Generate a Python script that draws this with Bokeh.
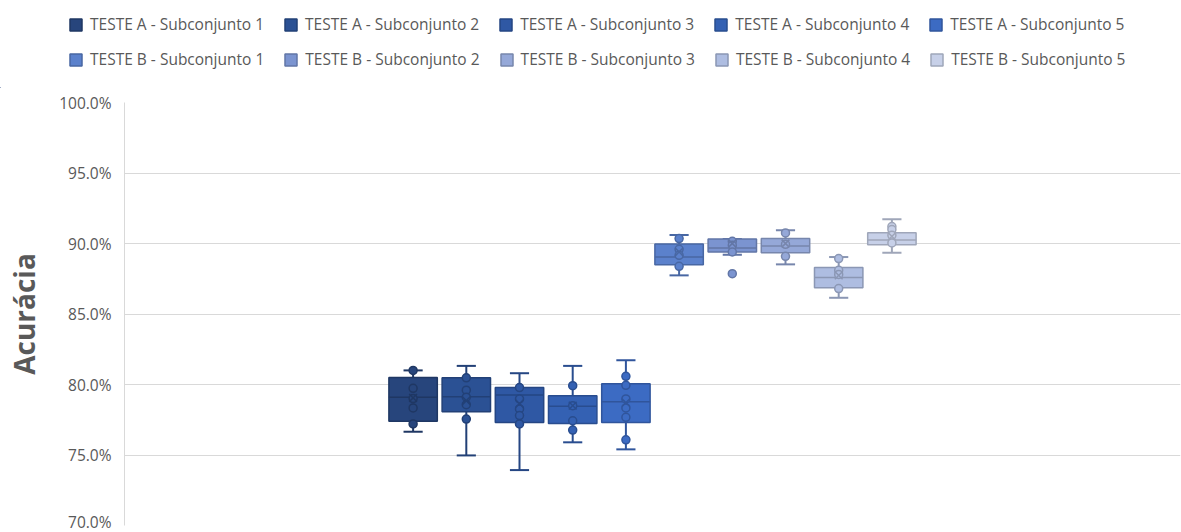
from bokeh.plotting import figure
from bokeh.layouts import column
from bokeh.models import (Range1d, Legend, LegendItem, PrintfTickFormatter, FixedTicker,
                          ColumnDataSource)
from bokeh.embed import file_html
from bokeh.resources import INLINE

# ---- data -------------------------------------------------------------
series_names = [
    "TESTE A - Subconjunto 1", "TESTE A - Subconjunto 2", "TESTE A - Subconjunto 3",
    "TESTE A - Subconjunto 4", "TESTE A - Subconjunto 5",
    "TESTE B - Subconjunto 1", "TESTE B - Subconjunto 2", "TESTE B - Subconjunto 3",
    "TESTE B - Subconjunto 4", "TESTE B - Subconjunto 5",
]
box_colors = [
    "#27457c", "#2b5194", "#2f58a4", "#3461b3", "#3c6bc3",
    "#5b81cc", "#7b94d0", "#95a8d8", "#aebde1", "#c7d0e8",
]
# accuracy statistics (%)
q1 = [77.4, 78.07, 77.31, 77.24, 77.31, 88.5, 89.4, 89.35, 86.87, 89.92]
median = [79.1, 79.14, 79.26, 78.45, 78.78, 89.04, 89.68, 89.82, 87.58, 90.25]
q3 = [80.5, 80.47, 79.78, 79.21, 80.06, 89.97, 90.32, 90.35, 88.29, 90.77]
whisker_low = [76.65, 74.97, 73.93, 75.9, 75.4, 87.74, 89.2, 88.52, 86.15, 89.35]
whisker_high = [81.0, 81.32, 80.8, 81.32, 81.72, 90.6, 90.32, 90.94, 89.04, 91.72]
means = [79.05, 78.85, 78.64, 78.5, 78.72, 89.4, 90.0, 90.0, 87.74, 90.5]
inner_points = [
    [81.0, 79.73, 79.0, 78.34, 77.2],
    [80.47, 79.6, 79.1, 78.57, 77.55],
    [79.78, 78.98, 78.27, 77.8, 77.2],
    [79.92, 78.5, 77.43, 76.77],
    [80.58, 79.94, 78.98, 78.34, 77.67, 76.08],
    [90.35, 89.59, 89.16, 88.38],
    [90.16, 89.87, 89.4],
    [90.75, 89.94, 89.09],
    [88.93, 88.1, 87.81, 86.8],
    [91.2, 90.99, 90.58, 90.04],
]
outliers = [[], [], [], [], [], [], [87.86], [], [], []]
y_ticks = [70, 75, 80, 85, 90, 95, 100]

# ---- layout constants ---------------------------------------------------
SLOT = 1.0          # one series per slot
BOX_W = 0.91        # box width as a fraction of a slot
CAP_W = 0.36        # whisker cap width
HALF_SPAN = 9.925   # half of the visible x extent, in slots
LEGEND_H = 88       # height of the legend strip above the chart
TOTAL_H = 532
WIDTH = 1181


def darken(hex_color, f):
    h = hex_color.lstrip("#")
    r, g, b = (int(h[i:i + 2], 16) for i in (0, 2, 4))
    return "#%02x%02x%02x" % (int(r * f), int(g * f), int(b * f))


n = len(series_names)
x_pos = [(i - (n - 1) / 2) * SLOT for i in range(n)]
edges = [darken(c, 0.8) for c in box_colors]

# ---- main chart -----------------------------------------------------------
p = figure(
    width=WIDTH, height=TOTAL_H - LEGEND_H,
    x_range=Range1d(-HALF_SPAN, HALF_SPAN), y_range=Range1d(70, 100),
    output_backend="svg", toolbar_location=None,
    min_border_left=124, min_border_right=1, min_border_top=102 - LEGEND_H, min_border_bottom=7,
)
p.outline_line_color = None
p.background_fill_color = "white"
p.border_fill_color = "white"

p.xaxis.visible = False
p.xgrid.visible = False

p.yaxis.ticker = FixedTicker(ticks=y_ticks)
p.yaxis.formatter = PrintfTickFormatter(format="%.1f%%")
p.yaxis.major_tick_line_color = None
p.yaxis.minor_tick_line_color = None
p.yaxis.major_tick_out = 0
p.yaxis.major_tick_in = 0
p.yaxis.axis_line_color = "#d9d9d9"
p.yaxis.major_label_standoff = 13
p.yaxis.major_label_text_font = "Open Sans"
p.yaxis.major_label_text_font_size = "15.5px"
p.yaxis.major_label_text_color = "#595959"
p.yaxis.axis_label = "Acurácia"
p.yaxis.axis_label_text_font = "Open Sans"
p.yaxis.axis_label_text_font_size = "28px"
p.yaxis.axis_label_text_font_style = "bold"
p.yaxis.axis_label_text_color = "#595959"
p.yaxis.axis_label_standoff = 13

p.ygrid.ticker = FixedTicker(ticks=y_ticks)
p.ygrid.grid_line_color = "#d9d9d9"
p.ygrid.grid_line_width = 1

for i in range(n):
    x = x_pos[i]
    fill = box_colors[i]
    edge = edges[i]

    # whisker stems
    p.segment(x0=[x, x], y0=[whisker_low[i], q3[i]], x1=[x, x], y1=[q1[i], whisker_high[i]],
              line_color=edge, line_width=2)
    # whisker caps
    p.segment(x0=[x - CAP_W / 2] * 2, y0=[whisker_low[i], whisker_high[i]],
              x1=[x + CAP_W / 2] * 2, y1=[whisker_low[i], whisker_high[i]],
              line_color=edge, line_width=2)
    # box
    p.vbar(x=[x], width=BOX_W, bottom=[q1[i]], top=[q3[i]],
           fill_color=fill, line_color=edge, line_width=1.5)
    # median
    p.segment(x0=[x - BOX_W / 2], y0=[median[i]], x1=[x + BOX_W / 2], y1=[median[i]],
              line_color=edge, line_width=1.5)
    # data points and outliers
    pts = inner_points[i] + outliers[i]
    p.scatter(x=[x] * len(pts), y=pts, size=8, marker="circle",
              fill_color=fill, line_color=edge, line_width=1.5)
    # mean
    p.scatter(x=[x], y=[means[i]], size=11, marker="x", line_color=edge, line_width=1.5)

# ---- legend strip ---------------------------------------------------------
# one unit per pixel; the ranges start just past the box data so the
# swatch renderers stay outside the strip
lg = figure(
    width=WIDTH, height=LEGEND_H,
    x_range=Range1d(20, 20 + WIDTH), y_range=Range1d(100, 100 + LEGEND_H),
    output_backend="svg", toolbar_location=None,
    min_border_left=0, min_border_right=0, min_border_top=0, min_border_bottom=0,
)
lg.frame_align = False
lg.outline_line_color = None
lg.axis.visible = False
lg.grid.visible = False

swatches = []
for i in range(n):
    src = ColumnDataSource(dict(x=[x_pos[i]], bottom=[q1[i]], top=[q3[i]]))
    swatches.append(lg.vbar(x="x", width=BOX_W, bottom="bottom", top="top", source=src,
                            fill_color=box_colors[i], line_color=edges[i], line_width=1.5))

legend_style = dict(
    orientation="horizontal",
    label_text_font="Open Sans",
    label_text_font_size="15.5px",
    label_text_color="#595959",
    glyph_width=15, glyph_height=15, label_height=22,
    label_standoff=7, spacing=19, padding=0, margin=0,
    border_line_color=None, background_fill_alpha=0,
)
row1 = Legend(items=[LegendItem(label=series_names[i], renderers=[swatches[i]]) for i in range(5)],
              location=(68, LEGEND_H - 22 - 13), **legend_style)
row2 = Legend(items=[LegendItem(label=series_names[i], renderers=[swatches[i]]) for i in range(5, 10)],
              location=(68, LEGEND_H - 22 - 48), **legend_style)
lg.add_layout(row1)
lg.add_layout(row2)

layout = column(lg, p, spacing=0)
open("out.html", "w").write(file_html(layout, INLINE))
